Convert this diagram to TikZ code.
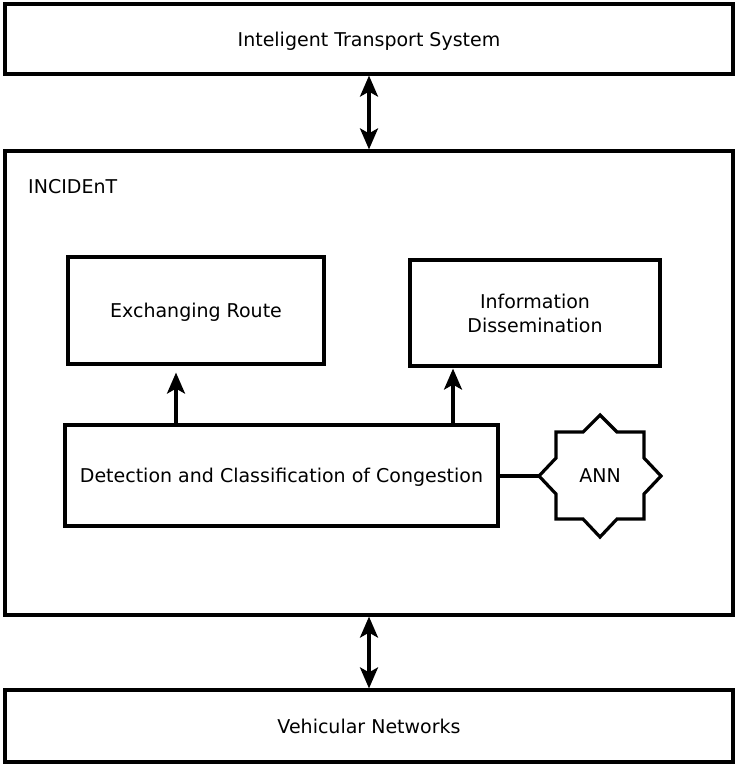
\documentclass[tikz,border=0pt]{standalone}
\usepackage{fontspec}
\setmainfont{DejaVu Sans}
\usetikzlibrary{arrows.meta}
\begin{document}
\begin{tikzpicture}[x=1pt,y=-1pt,
  font=\fontsize{19}{24}\selectfont,
  box/.style={draw=black,line width=3.2pt,fill=white,inner sep=0pt,align=center,text depth=0pt},
  conn/.style={line width=3.2pt},
  tip/.tip={Stealth[length=21pt,width=18pt,inset=5pt]}]
\useasboundingbox (0,0) rectangle (738,767);
\node[box,minimum width=728pt,minimum height=70pt] (its) at (369,39) {Inteligent Transport System};
\node[box,minimum width=728pt,minimum height=464pt] (inc) at (369,383) {};
\node[anchor=west,inner sep=0pt] (inclabel) at (28,187) {INCIDEnT};
\node[box,minimum width=256pt,minimum height=107pt] (ex) at (196,310.5) {Exchanging Route};
\node[box,minimum width=250pt,minimum height=106pt] (info) at (535,313) {Information\\Dissemination};
\node[box,minimum width=433pt,minimum height=101pt] (det) at (281.5,475.5) {Detection and Classification of Congestion};
\node[box,minimum width=728pt,minimum height=72pt] (veh) at (369,726) {Vehicular Networks};
% ANN star
\draw[line width=3.2pt,fill=white,line join=miter]
  (600,415) -- (617,432) -- (644,432) -- (644,458) -- (661,476) -- (644,494) -- (644,519)
  -- (617,519) -- (600,537) -- (583,519) -- (556,519) -- (556,494) -- (539,476)
  -- (556,458) -- (556,432) -- (583,432) -- cycle;
\node[inner sep=0pt,minimum width=122pt,minimum height=122pt,text depth=0pt] (ann) at (600,476) {ANN};
% connectors
\draw[conn,{tip}-{tip}] (its.south) -- (inc.north);
\draw[conn,{tip}-{tip}] (inc.south) -- (veh.north);
\draw[conn,-{tip}] (det.north -| 176,0) -- ([yshift=-7pt]ex.south -| 176,0);
\draw[conn,-{tip}] (det.north -| 453,0) -- ([yshift=-1pt]info.south -| 453,0);
\draw[conn] (det.east |- 0,476) -- (ann.west);
\end{tikzpicture}
\end{document}
